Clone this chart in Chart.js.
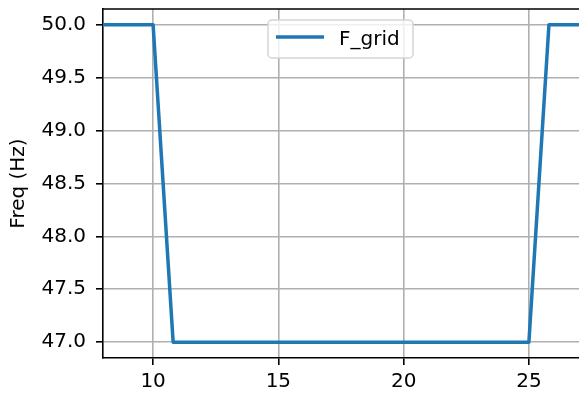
<!DOCTYPE html>
<html>
<head>
<meta charset="utf-8">
<script src="https://cdn.jsdelivr.net/npm/chart.js@4/dist/chart.umd.min.js"></script>
<style>
    html, body { margin: 0; padding: 0; background: #ffffff; }
    #freqChart { display: block; }
</style>
</head>
<body>
<canvas id="freqChart" width="579" height="396"></canvas>
<script>
// time (s) and grid frequency (Hz)
const timeValues = [0, 10, 10.8, 25, 25.8, 30];
const freqValues = [50, 50, 47, 47, 50, 50];
const seriesLabel = 'F_grid';

const xTicks = [10, 15, 20, 25];
const yTicks = [47.0, 47.5, 48.0, 48.5, 49.0, 49.5, 50.0];

const FONT = 'DejaVu Sans';
const LINE_COLOR = '#1f77b4';

// top spine (left/bottom come from the axis borders)
const topSpine = {
    id: 'topSpine',
    afterDraw(chart) {
        const { ctx, chartArea } = chart;
        ctx.save();
        ctx.strokeStyle = '#000000';
        ctx.lineWidth = 1.6;
        ctx.beginPath();
        ctx.moveTo(chartArea.left, chartArea.top);
        ctx.lineTo(chartArea.right, chartArea.top);
        ctx.stroke();
        ctx.restore();
    }
};

// legend box drawn inside the plot, upper centre
const innerLegend = {
    id: 'innerLegend',
    afterDatasetsDraw(chart) {
        const { ctx } = chart;
        const ds = chart.data.datasets[0];
        const x = 268, y = 20, w = 145, h = 38;
        ctx.save();
        ctx.beginPath();
        ctx.roundRect(x, y, w, h, 4);
        ctx.fillStyle = 'rgba(255,255,255,0.8)';
        ctx.fill();
        ctx.strokeStyle = '#d5d5d5';
        ctx.lineWidth = 1.5;
        ctx.stroke();

        ctx.beginPath();
        ctx.moveTo(276, 37);
        ctx.lineTo(324, 37);
        ctx.strokeStyle = ds.borderColor;
        ctx.lineWidth = 3.5;
        ctx.stroke();

        ctx.fillStyle = '#000000';
        ctx.font = '20px "' + FONT + '"';
        ctx.textBaseline = 'alphabetic';
        ctx.textAlign = 'left';
        ctx.fillText(ds.label, 339, 45);
        ctx.restore();
    }
};

const points = timeValues.map((t, i) => ({ x: t, y: freqValues[i] }));

new Chart(document.getElementById('freqChart').getContext('2d'), {
    type: 'line',
    data: {
        datasets: [{
            label: seriesLabel,
            data: points,
            borderColor: LINE_COLOR,
            borderWidth: 3.5,
            borderJoinStyle: 'round',
            pointRadius: 0,
            tension: 0,
            fill: false
        }]
    },
    options: {
        responsive: false,
        animation: false,
        devicePixelRatio: 1,
        layout: { padding: { top: 9, right: 0, left: 0, bottom: 0 } },
        plugins: {
            legend: { display: false },
            tooltip: { enabled: false }
        },
        scales: {
            x: {
                type: 'linear',
                min: 8,
                max: 27,
                afterBuildTicks: (scale) => {
                    scale.ticks = xTicks.map(v => ({ value: v }));
                },
                afterFit: (scale) => {
                    scale.height = 38;
                    scale.paddingLeft = 0;
                    scale.paddingRight = 0;
                },
                grid: {
                    color: '#b0b0b0',
                    lineWidth: 1.6,
                    drawTicks: true,
                    tickLength: 7,
                    tickColor: '#000000',
                    tickWidth: 1.6
                },
                border: { display: true, color: '#000000', width: 1.6 },
                ticks: {
                    font: { family: FONT, size: 20 },
                    color: '#000000',
                    padding: 5,
                    maxRotation: 0,
                    callback: (v) => String(v)
                }
            },
            y: {
                type: 'linear',
                min: 46.85,
                max: 50.15,
                afterBuildTicks: (scale) => {
                    scale.ticks = yTicks.map(v => ({ value: v }));
                },
                afterFit: (scale) => {
                    scale.width = 103;
                    scale.paddingTop = 0;
                    scale.paddingBottom = 0;
                },
                grid: {
                    color: '#b0b0b0',
                    lineWidth: 1.6,
                    drawTicks: true,
                    tickLength: 7,
                    tickColor: '#000000',
                    tickWidth: 1.6
                },
                border: { display: true, color: '#000000', width: 1.6 },
                ticks: {
                    font: { family: FONT, size: 20 },
                    color: '#000000',
                    padding: 10,
                    callback: (v) => Number(v).toFixed(1)
                },
                title: {
                    display: true,
                    text: 'Freq (Hz)',
                    font: { family: FONT, size: 20 },
                    color: '#000000',
                    padding: { top: 7, bottom: 0 }
                }
            }
        }
    },
    plugins: [topSpine, innerLegend]
});
</script>
</body>
</html>
